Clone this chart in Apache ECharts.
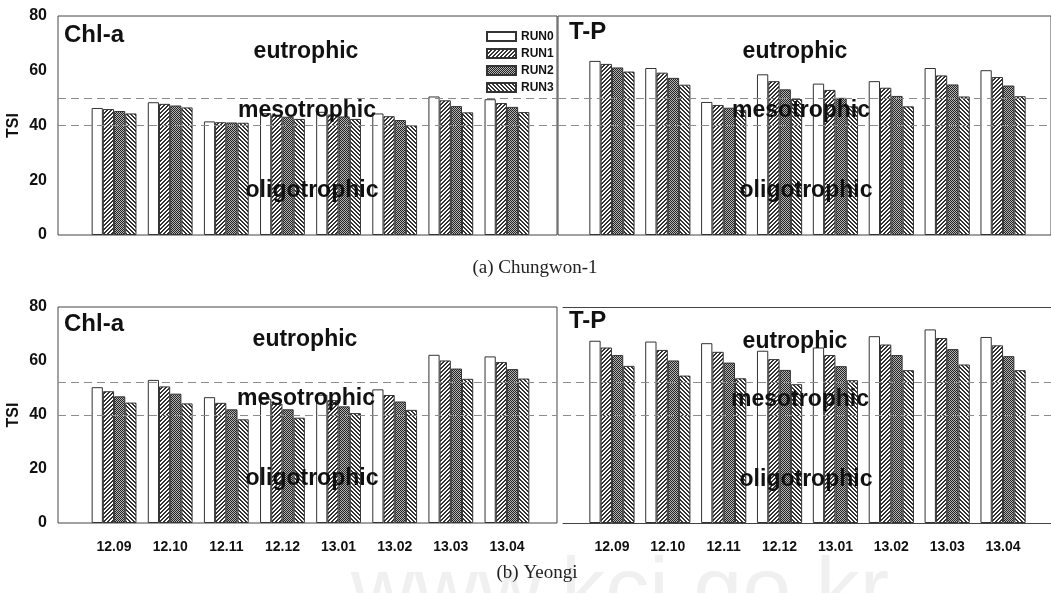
<!DOCTYPE html>
<html>
<head>
<meta charset="utf-8">
<script src="https://cdn.jsdelivr.net/npm/echarts@6/dist/echarts.min.js"></script>
<style>
  html, body { margin: 0; padding: 0; background: #fff; }
  #chart { width: 1051px; height: 593px; }
</style>
</head>
<body>
<div id="chart"></div>
<script>
// categories (year.month)
const categories = ['12.09', '12.10', '12.11', '12.12', '13.01', '13.02', '13.03', '13.04'];
const runNames = ['RUN0', 'RUN1', 'RUN2', 'RUN3'];

// (a) Chungwon-1, TSI per run
const chungwonChl = [
  [46.4, 48.5, 41.5, 44.5, 45.0, 44.4, 50.6, 49.6],
  [46.0, 47.9, 41.2, 43.8, 44.0, 43.4, 49.2, 48.2],
  [45.3, 47.3, 41.1, 43.2, 43.3, 42.0, 47.1, 46.8],
  [44.4, 46.6, 41.0, 42.4, 42.4, 40.1, 44.8, 44.9]
];
const chungwonTP = [
  [63.6, 61.0, 48.6, 58.7, 55.3, 56.2, 61.0, 60.2],
  [62.5, 59.3, 47.5, 56.2, 53.0, 53.8, 58.3, 57.7],
  [61.2, 57.4, 46.5, 53.2, 50.1, 50.8, 55.0, 54.6],
  [59.7, 54.9, 45.7, 49.7, 47.0, 47.0, 50.6, 50.7]
];
// (b) Yeongi, TSI per run
const yeongiChl = [
  [50.3, 53.0, 46.6, 46.0, 47.5, 49.5, 62.3, 61.7],
  [48.8, 50.6, 44.5, 44.2, 45.5, 47.4, 60.2, 59.6],
  [46.9, 47.9, 42.1, 42.1, 43.2, 45.0, 57.2, 57.0],
  [44.6, 44.3, 38.4, 39.0, 40.7, 41.9, 53.4, 53.5]
];
const yeongiTP = [
  [67.5, 67.2, 66.6, 63.8, 65.0, 69.2, 71.7, 68.9],
  [65.0, 64.1, 63.4, 60.7, 62.2, 66.1, 68.5, 65.8],
  [62.2, 60.2, 59.4, 56.7, 58.1, 62.2, 64.4, 61.8],
  [58.2, 54.6, 53.6, 51.4, 52.9, 56.6, 58.7, 56.6]
];
// trophic state boundaries (dashed lines)
const chungwonLimits = [50, 40];
const yeongiLimits = [52, 40];

// hatch fills for the four runs
function makeFill(kind) {
  const c = document.createElement('canvas');
  c.width = 4; c.height = 4;
  const ctx = c.getContext('2d');
  ctx.fillStyle = '#fff';
  ctx.fillRect(0, 0, 4, 4);
  for (let x = 0; x < 4; x++) {
    for (let y = 0; y < 4; y++) {
      let col = null;
      if (kind === 'fwd' && (x + y) % 4 < 2) col = '#333';
      if (kind === 'back' && (x - y + 4) % 4 < 2) col = '#333';
      if (kind === 'check') col = (x + y) % 2 === 0 ? '#222' : '#b5b5b5';
      if (col) { ctx.fillStyle = col; ctx.fillRect(x, y, 1, 1); }
    }
  }
  return { image: c, repeat: 'repeat' };
}
const fills = ['#fff', makeFill('fwd'), makeFill('check'), makeFill('back')];

const font = 'Liberation Sans, Arial, sans-serif';

const panels = [
  { values: chungwonChl, limits: chungwonLimits, top: 16, height: 219, frameLeft: 58, frameWidth: 499, border: true,
    barLeft: 86, barWidth: 449, bw: 11.2, yLabels: true, xLabels: false },
  { values: chungwonTP, limits: chungwonLimits, top: 16, height: 219, frameLeft: 558, frameWidth: 500, border: true,
    barLeft: 584, barWidth: 447, bw: 11.3, yLabels: false, xLabels: false },
  { values: yeongiChl, limits: yeongiLimits, top: 307, height: 216, frameLeft: 58, frameWidth: 499, border: true,
    barLeft: 86, barWidth: 449, bw: 11.2, yLabels: true, xLabels: true },
  { values: yeongiTP, limits: yeongiLimits, top: 307, height: 216, frameLeft: 563, frameWidth: 495, border: false,
    barLeft: 584, barWidth: 447, bw: 11.3, yLabels: false, xLabels: true }
];

const grids = [], xAxes = [], yAxes = [], series = [];

panels.forEach(p => {
  // frame grid: box, y labels, dashed boundaries
  const fg = grids.length;
  grids.push({ left: p.frameLeft, top: p.top, width: p.frameWidth, height: p.height,
    show: p.border, borderColor: '#444', borderWidth: 1 });
  const fx = xAxes.length;
  xAxes.push({ gridIndex: fg, type: 'value', min: 0, max: 1, position: 'bottom',
    axisLine: { show: !p.border, onZero: false, lineStyle: { color: '#444' } },
    axisTick: { show: false }, axisLabel: { show: false }, splitLine: { show: false } });
  if (!p.border) {
    xAxes.push({ gridIndex: fg, type: 'value', min: 0, max: 1, position: 'top',
      axisLine: { show: true, onZero: false, lineStyle: { color: '#444' } },
      axisTick: { show: false }, axisLabel: { show: false }, splitLine: { show: false } });
  }
  const fy = yAxes.length;
  yAxes.push({ gridIndex: fg, type: 'value', min: 0, max: 80, interval: 20,
    axisLine: { show: false }, axisTick: { show: false }, splitLine: { show: false },
    axisLabel: { show: p.yLabels, fontWeight: 'bold', fontSize: 16, color: '#111', margin: 11, fontFamily: font },
    name: p.yLabels ? 'TSI' : '', nameLocation: 'middle', nameGap: 36, nameRotate: 90,
    nameTextStyle: { fontWeight: 'bold', fontSize: 16, color: '#111', fontFamily: font } });
  series.push({ type: 'line', xAxisIndex: fx, yAxisIndex: fy, data: [], silent: true, z: 5,
    markLine: { silent: true, symbol: ['none', 'none'], label: { show: false },
      lineStyle: { color: '#8c8c8c', type: [8, 5], width: 1 },
      data: p.limits.map(v => ({ yAxis: v })) } });

  // bar grid
  const bg = grids.length;
  grids.push({ left: p.barLeft, top: p.top, width: p.barWidth, height: p.height });
  const bx = xAxes.length;
  xAxes.push({ gridIndex: bg, type: 'category', data: categories,
    axisLine: { show: false }, axisTick: { show: false },
    axisLabel: { show: p.xLabels, fontWeight: 'bold', fontSize: 14, color: '#111', margin: 17, fontFamily: font } });
  const by = yAxes.length;
  yAxes.push({ gridIndex: bg, type: 'value', min: 0, max: 80, show: false });
  p.values.forEach((vals, r) => {
    series.push({ name: runNames[r], type: 'bar', xAxisIndex: bx, yAxisIndex: by, data: vals,
      barWidth: p.bw, barGap: '0%',
      itemStyle: { color: fills[r], borderColor: '#333', borderWidth: 1 } });
  });
});

function label(text, x, y, size, align) {
  return { type: 'text', x: x, y: y, z: 100,
    style: { text: text, font: 'bold ' + size + 'px ' + font, fill: '#111',
      textAlign: align || 'center', textVerticalAlign: 'middle' } };
}

const graphics = [
  { type: 'text', x: 620, y: 594, z: -1,
    style: { text: 'www.kci.go.kr', font: '88px ' + font, fill: '#f0f0f0', textAlign: 'center', textVerticalAlign: 'middle' } },
  label('Chl-a', 64, 35, 24, 'left'),
  label('T-P', 569, 32, 24, 'left'),
  label('Chl-a', 64, 324, 24, 'left'),
  label('T-P', 569, 321, 24, 'left'),
  label('eutrophic', 306, 52, 23),
  label('mesotrophic', 307, 111, 23),
  label('oligotrophic', 312, 191, 23),
  label('eutrophic', 795, 52, 23),
  label('mesotrophic', 801, 111, 23),
  label('oligotrophic', 806, 191, 23),
  label('eutrophic', 305, 340, 23),
  label('mesotrophic', 306, 399, 23),
  label('oligotrophic', 312, 479, 23),
  label('eutrophic', 795, 342, 23),
  label('mesotrophic', 800, 400, 23),
  label('oligotrophic', 806, 480, 23),
  { type: 'text', x: 535, y: 268, z: 100,
    style: { text: '(a) Chungwon-1', font: '19px Liberation Serif, Times New Roman, serif', fill: '#222',
      textAlign: 'center', textVerticalAlign: 'middle' } },
  { type: 'text', x: 537, y: 573, z: 100,
    style: { text: '(b) Yeongi', font: '19px Liberation Serif, Times New Roman, serif', fill: '#222',
      textAlign: 'center', textVerticalAlign: 'middle' } }
];

const chart = echarts.init(document.getElementById('chart'));
chart.setOption({
  backgroundColor: '#fff',
  animation: false,
  legend: {
    data: runNames.map(n => ({ name: n, icon: 'rect' })), orient: 'vertical', left: 481, top: 25,
    itemWidth: 29, itemHeight: 9, itemGap: 4,
    textStyle: { fontWeight: 'bold', fontSize: 12, color: '#111', fontFamily: font, lineHeight: 13 }
  },
  grid: grids,
  xAxis: xAxes,
  yAxis: yAxes,
  series: series,
  graphic: graphics
});
</script>
</body>
</html>
